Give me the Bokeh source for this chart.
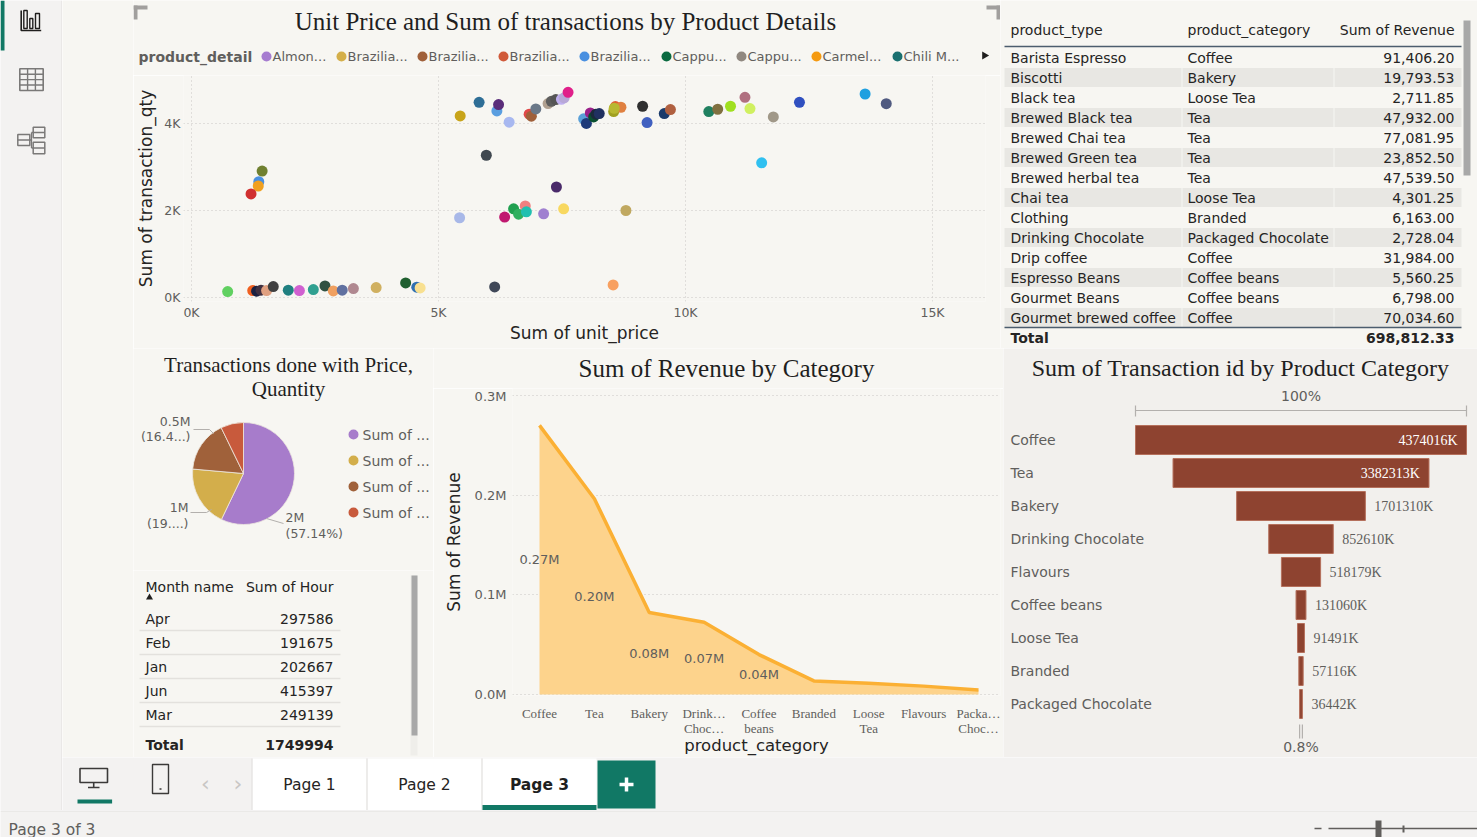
import math
from bokeh.plotting import figure
from bokeh.models import Range1d, FixedTicker
from bokeh.layouts import row, column
from bokeh.embed import file_html
from bokeh.resources import INLINE
from bokeh.core.properties import value

# ======================= DATA =======================
scatter_unit_price = [5439, 5822, 6182, 6216, 6430, 6835, 6880, 6970, 7218, 7285, 7375, 7488, 7544, 7623,
                      7938, 7994, 8073, 8141, 8186, 8254, 8546, 8580, 8693, 8557, 9132, 9222, 9571, 9695,
                      10472, 10652, 10911, 11204, 11305, 11778, 12307, 13636, 14064,
                      5968, 11542, 1430, 1362, 1351, 1205, 7387, 5427, 6339, 6520, 6621, 6756, 6779, 7128,
                      7533, 8794, 6137, 8535,
                      732, 1239, 1317, 1407, 1520, 1655, 1959, 2184, 2466, 2702, 2871, 3051, 3277, 3738,
                      4335, 4560, 4628]
scatter_transaction_qty = [4174, 4487, 4289, 4434, 4030, 4213, 4167, 4334, 4458, 4510, 4549, 4555, 4590, 4716,
                           4106, 4000, 4243, 4151, 4213, 4228, 4274, 4388, 4373, 4350, 4396, 4020, 4228, 4320,
                           4274, 4327, 4396, 4602, 4342, 4151, 4487, 4678, 4456,
                           3270, 3095, 2905, 2662, 2563, 2380, 2540, 1833, 1848, 2038, 1916, 2106, 1970, 1924,
                           2038, 2000, 243, 289,
                           137, 160, 144, 167, 160, 251, 167, 160, 183, 266, 152, 167, 205, 228,
                           335, 236, 220]
scatter_colors = ["#c8a41a", "#2e6e96", "#5a9ee0", "#5a2d7a", "#a8b8f0", "#e04848", "#a0603a", "#6a7888",
                  "#b0a090", "#5e5e5e", "#555555", "#c0b0f0", "#b8a8d8", "#e0208a", "#5aa0d8", "#1e3a7a",
                  "#9a208a", "#0a5030", "#1a2a3a", "#203060", "#a0a020", "#e06030", "#e08040", "#b8b830",
                  "#303030", "#4060c0", "#1a3a6a", "#b06040", "#208060", "#807040", "#a0e020", "#b07080",
                  "#d0f060", "#a09888", "#3050c0", "#20a0e0", "#505a80",
                  "#404850", "#30c0f0", "#708030", "#4a90e0", "#f0a020", "#d03030", "#4a2a6a", "#a8b8e8",
                  "#c01870", "#20a050", "#30b060", "#f08080", "#20c0b0", "#a080d0", "#f8d860", "#c0a860",
                  "#404858", "#f8a060",
                  "#60d060", "#f06020", "#1a2040", "#403040", "#e0a080", "#404040", "#208080", "#d060d0",
                  "#30a090", "#305040", "#f0a060", "#6070a0", "#b08890", "#d0b060", "#206030", "#3070b0",
                  "#f8e090"]
scatter_x_ticks = [0, 5000, 10000, 15000]
scatter_y_ticks = [0, 2000, 4000]
scatter_legend_title = "product_detail"
scatter_legend_labels = ["Almon...", "Brazilia...", "Brazilia...", "Brazilia...", "Brazilia...",
                         "Cappu...", "Cappu...", "Carmel...", "Chili M..."]
scatter_legend_colors = ["#a67cd0", "#d4af4a", "#a0603a", "#d05a3a", "#4a90e0",
                         "#0a6a40", "#908880", "#f59a10", "#1a7070"]

table_product_type = ["Barista Espresso", "Biscotti", "Black tea", "Brewed Black tea", "Brewed Chai tea",
                      "Brewed Green tea", "Brewed herbal tea", "Chai tea", "Clothing", "Drinking Chocolate",
                      "Drip coffee", "Espresso Beans", "Gourmet Beans", "Gourmet brewed coffee"]
table_product_category = ["Coffee", "Bakery", "Loose Tea", "Tea", "Tea", "Tea", "Tea", "Loose Tea", "Branded",
                          "Packaged Chocolate", "Coffee", "Coffee beans", "Coffee beans", "Coffee"]
table_revenue = [91406.20, 19793.53, 2711.85, 47932.00, 77081.95, 23852.50, 47539.50, 4301.25, 6163.00,
                 2728.04, 31984.00, 5560.25, 6798.00, 70034.60]
table_revenue_total = 698812.33

pie_series = ["Sum of ...", "Sum of ...", "Sum of ...", "Sum of ..."]
pie_values = [1749994, 590000, 502000, 221000]
pie_colors = ["#a77ccb", "#d3ae4b", "#a0613a", "#c85a3c"]
pie_value_text = ["2M", "1M", "0.5M"]
pie_pct_text = ["(57.14%)", "(19....)", "(16.4...)"]

month_names = ["Apr", "Feb", "Jan", "Jun", "Mar"]
month_hours = [297586, 191675, 202667, 415397, 249139]
month_hours_total = 1749994

area_categories = ["Coffee", "Tea", "Bakery", "Drinking Chocolate", "Coffee beans", "Branded",
                   "Loose Tea", "Flavours", "Packaged Chocolate"]
area_tick_labels = ["Coffee", "Tea", "Bakery", "Drink\u2026\nChoc\u2026", "Coffee\nbeans", "Branded",
                    "Loose\nTea", "Flavours", "Packa\u2026\nChoc\u2026"]
area_revenue = [269952, 196406, 82316, 72416, 40085, 13607, 11214, 8408, 4408]
area_labelled = 5
area_y_ticks = [0, 100000, 200000, 300000]

funnel_categories = ["Coffee", "Tea", "Bakery", "Drinking Chocolate", "Flavours", "Coffee beans",
                     "Loose Tea", "Branded", "Packaged Chocolate"]
funnel_values = [4374016, 3382313, 1701310, 852610, 518179, 131060, 91491, 57116, 36442]

# ======================= STYLE =======================
SANS = "DejaVu Sans"
SERIF = "Liberation Serif"
DARK = "#252423"
GRAY = "#605e5c"
CANVAS = "#f7f6f2"
PANEL = "#f3f2f1"
GREEN = "#117865"
LINE = "#e1dfdd"


def noalign(p):
    try:
        p.frame_align = False
    except Exception:
        pass
    return p


def blank(w, h, xr, yr, bg=CANVAS):
    p = figure(width=w, height=h, x_range=xr, y_range=yr, title=None,
               x_axis_type=None, y_axis_type=None, output_backend="svg",
               toolbar_location=None, min_border=0)
    p.background_fill_color = bg
    p.border_fill_color = bg
    p.outline_line_color = None
    return noalign(p)


def put_text(p, xs, ys, texts, size="14px", color=DARK, font=SANS, align="left", style="normal"):
    return p.text(x=list(xs), y=list(ys), text=list(texts), text_font=value(font),
                  text_font_size=size, text_color=color, text_align=align,
                  text_baseline="middle", text_font_style=style)


def style_axes(p, tick_font, tick_size):
    for ax in p.axis:
        ax.axis_line_color = None
        ax.major_tick_line_color = None
        ax.minor_tick_line_color = None
        ax.major_tick_out = 0
        ax.major_tick_in = 0
        ax.minor_tick_out = 0
        ax.minor_tick_in = 0
        ax.major_label_text_color = GRAY
        ax.major_label_text_font = tick_font
        ax.major_label_text_font_size = tick_size
        ax.axis_label_text_font = SANS
        ax.axis_label_text_font_size = "17px"
        ax.axis_label_text_color = DARK
        ax.axis_label_text_font_style = "normal"


# ======================= SIDEBAR (x 0..62, y 0..810) =======================
sb = blank(62, 810, Range1d(0, 62), Range1d(810, 0), bg=PANEL)
sb.segment(x0=[61.5], y0=[0], x1=[61.5], y1=[810], line_color=LINE, line_width=1)
sb.quad(left=[0], right=[4], top=[0], bottom=[50], fill_color=GREEN, line_color=None)
sb.line(x=[20.7, 20.7, 40.7], y=[10, 30, 30], line_color="#201f1e", line_width=1.6)
sb.quad(left=[23.3, 29.3, 35.0], right=[26.7, 32.3, 39.0], top=[10, 18, 13], bottom=[28, 28, 28],
        fill_color=None, line_color="#201f1e", line_width=1.4)
sb.quad(left=[19.3], right=[42.7], top=[68.3], bottom=[90], fill_color=None, line_color="#7a7978", line_width=1.6)
sb.segment(x0=[27.1, 34.9, 19.3, 19.3, 19.3], y0=[68.3, 68.3, 73.7, 79.1, 84.5],
           x1=[27.1, 34.9, 42.7, 42.7, 42.7], y1=[90, 90, 73.7, 79.1, 84.5], line_color="#7a7978", line_width=1.4)
sb.quad(left=[17.3, 32.7, 32.7], right=[29.3, 44.3, 44.3], top=[134, 126.7, 141.7], bottom=[145, 137.3, 153.3],
        fill_color=None, line_color="#7a7978", line_width=1.5)
sb.segment(x0=[17.3, 32.7, 32.7, 29.3, 31.0, 31.0, 31.0], y0=[139.5, 132, 147.5, 139.5, 132, 132, 147.5],
           x1=[29.3, 44.3, 44.3, 31.0, 31.0, 32.7, 32.7], y1=[139.5, 132, 147.5, 139.5, 147.5, 132, 147.5],
           line_color="#7a7978", line_width=1.3)

# ======================= LEFT PAD (x 62..133) =======================
pad = blank(71, 757, Range1d(0, 71), Range1d(757, 0))

# ======================= SCATTER HEADER (x 133..1000, y 0..75) =======================
sh = blank(867, 75, Range1d(0, 867), Range1d(75, 0))
# focus-mode corner marks of the selected visual
sh.quad(left=[0, 0, 853, 863], right=[14, 4, 867, 867], top=[5, 5, 5, 5], bottom=[9, 19, 9, 19],
        fill_color="#a19f9d", line_color=None)
put_text(sh, [432], [21], ["Unit Price and Sum of transactions by Product Details"], size="25px",
         font=SERIF, color="#1f1f1f", align="center")
put_text(sh, [5], [56], [scatter_legend_title], size="14px", color=GRAY, style="bold")
legend_dot_x = [133, 208, 289, 370, 451, 533, 608, 683, 764]
sh.scatter(x=legend_dot_x, y=[56] * len(legend_dot_x), size=10, fill_color=scatter_legend_colors, line_color=None)
put_text(sh, [x + 6 for x in legend_dot_x], [56] * len(legend_dot_x), scatter_legend_labels, size="13px", color=GRAY)
sh.scatter(x=[851], y=[55], marker="triangle", angle=-math.pi / 2, size=8, fill_color="#201f1e", line_color=None)

# ======================= SCATTER PLOT (x 133..1000, y 75..348) =======================
SX0, SX1 = -162, 16073
SY0, SY1 = -92, 5103
sc = figure(width=867, height=273, x_range=Range1d(SX0, SX1), y_range=Range1d(SY0, SY1), title=None,
            output_backend="svg", toolbar_location=None,
            min_border_left=50, min_border_right=15, min_border_top=0, min_border_bottom=47)
noalign(sc)
sc.background_fill_color = CANVAS
sc.border_fill_color = CANVAS
sc.outline_line_color = None
sc.scatter(x=scatter_unit_price, y=scatter_transaction_qty, size=11, fill_color=scatter_colors, line_color=None)
sc.xaxis.ticker = FixedTicker(ticks=scatter_x_ticks)
sc.yaxis.ticker = FixedTicker(ticks=scatter_y_ticks)
sc.xaxis.major_label_overrides = {t: f"{t // 1000}K" for t in scatter_x_ticks}
sc.yaxis.major_label_overrides = {t: f"{t // 1000}K" for t in scatter_y_ticks}
sc.xaxis.axis_label = "Sum of unit_price"
sc.yaxis.axis_label = "Sum of transaction_qty"
style_axes(sc, SANS, "12.5px")
sc.xaxis.major_label_standoff = 3
sc.xaxis.axis_label_standoff = 0
sc.yaxis.major_label_standoff = 3
sc.yaxis.axis_label_standoff = 5
for g in (sc.xgrid[0], sc.ygrid[0]):
    g.grid_line_color = "#c8c6c4"
    g.grid_line_dash = "1 3"

# ======================= TOP TABLE (x 1000..1477, y 0..348) =======================
tb = blank(477, 348, Range1d(0, 477), Range1d(14.55, -2.85))
n = len(table_product_type)
odd = [i for i in range(n) if i % 2 == 1]
for l, r in ((4, 181), (182, 333), (334, 461)):
    tb.quad(left=[l] * len(odd), right=[r] * len(odd), top=[i - 0.48 for i in odd],
            bottom=[i + 0.48 for i in odd], fill_color="#e8e7e3", line_color=None)
tb.segment(x0=[4, 4], y0=[-0.55, 13.5], x1=[461, 461], y1=[-0.55, 13.5], line_color="#4c5d6e", line_width=1.5)
put_text(tb, [10, 187], [-1.4, -1.4], ["product_type", "product_category"])
put_text(tb, [454], [-1.4], ["Sum of Revenue"], align="right")
put_text(tb, [10] * n, range(n), table_product_type)
put_text(tb, [187] * n, range(n), table_product_category)
put_text(tb, [454] * n, range(n), [f"{v:,.2f}" for v in table_revenue], align="right")
put_text(tb, [10], [14.0], ["Total"], style="bold")
put_text(tb, [454], [14.0], [f"{table_revenue_total:,.2f}"], align="right", style="bold")
tb.quad(left=[463], right=[470], top=[-1.85], bottom=[5.9], fill_color="#a8a8a8", line_color=None)

# ======================= PIE (x 133..433, y 348..570) =======================
pie = blank(300, 222, Range1d(0, 300), Range1d(0, 222))
total = sum(pie_values)
cum = [0]
for v in pie_values:
    cum.append(cum[-1] + v / total)
starts = [math.pi / 2 - 2 * math.pi * c for c in cum[:-1]]
ends = [math.pi / 2 - 2 * math.pi * c for c in cum[1:]]
pie.wedge(x=[110] * len(pie_values), y=[97] * len(pie_values), radius=51, start_angle=starts, end_angle=ends,
          direction="clock", fill_color=pie_colors, line_color="#eee8e0", line_width=0.8)
put_text(pie, [155, 155], [206, 182], ["Transactions done with Price,", "Quantity"], size="21px",
         font=SERIF, color="#1f1f1f", align="center")
label_anchor = [(152, "left", 53, 37), (55, "right", 63, 47), (57, "right", 149, 134)]
for (ax, al, y1, y2), vt, pt in zip(label_anchor, pie_value_text, pie_pct_text):
    put_text(pie, [ax, ax], [y1, y2], [vt, pt], size="12.5px", color=GRAY, align=al)
pie.multi_line(xs=[[133, 150], [57, 73, 78], [60, 76, 80]], ys=[[52, 47], [58, 58, 61], [141, 141, 137]],
               line_color="#b3b0ad", line_width=1)
ly_ = [136, 110, 84, 58]
pie.scatter(x=[220] * 4, y=ly_, size=10, fill_color=pie_colors, line_color=None)
put_text(pie, [229] * 4, ly_, pie_series, size="14px", color=GRAY)

# ======================= MONTH TABLE (x 133..433, y 570..757) =======================
mt = blank(300, 187, Range1d(0, 300), Range1d(5.79, -2))
m = len(month_names)
put_text(mt, [12], [-1.333], ["Month name"])
put_text(mt, [200], [-1.333], ["Sum of Hour"], align="right")
mt.scatter(x=[16], y=[-0.875], marker="triangle", size=7, fill_color="#201f1e", line_color=None)
put_text(mt, [12] * m, range(m), month_names)
put_text(mt, [200] * m, range(m), [str(h) for h in month_hours], align="right")
mt.segment(x0=[6] * m, y0=[i + 0.5 for i in range(m)], x1=[207] * m, y1=[i + 0.5 for i in range(m)],
           line_color="#e3e1dd", line_width=1.5)
put_text(mt, [12], [5.29], ["Total"], style="bold")
put_text(mt, [200], [5.29], [str(month_hours_total)], align="right", style="bold")
mt.quad(left=[277], right=[284], top=[-1.79], bottom=[5.71], fill_color="#efeeea", line_color=None)
mt.quad(left=[278], right=[284], top=[-1.79], bottom=[4.875], fill_color="#a8a8a8", line_color=None)

# ======================= AREA HEADER (x 433..1003, y 348..388) =======================
ah = blank(570, 40, Range1d(0, 570), Range1d(40, 0))
put_text(ah, [293], [20], ["Sum of Revenue by Category"], size="25px", font=SERIF, color="#1f1f1f", align="center")

# ======================= AREA PLOT (x 433..1003, y 388..757) =======================
STEP = 54.875
AX0, AX1 = (512 - 539) / STEP, (1000 - 539) / STEP
PXM = 1003.3 / 1e6
AY0, AY1 = (696 - 697) / PXM, (696 - 388) / PXM
ar = figure(width=570, height=369, x_range=Range1d(AX0, AX1), y_range=Range1d(AY0, AY1), title=None,
            output_backend="svg", toolbar_location=None,
            min_border_left=79, min_border_right=3, min_border_top=0, min_border_bottom=60)
noalign(ar)
ar.background_fill_color = CANVAS
ar.border_fill_color = CANVAS
ar.outline_line_color = None
idx = list(range(len(area_categories)))
ar.varea(x=idx, y1=[0] * len(idx), y2=area_revenue, fill_color="#fdd38c")
ar.line(x=idx, y=area_revenue, line_color="#fbb034", line_width=3.5)
put_text(ar, idx[:area_labelled], [v / 2 for v in area_revenue[:area_labelled]],
         [f"{v / 1e6:.2f}M" for v in area_revenue[:area_labelled]], size="13px", color=GRAY, align="center")
ar.xaxis.ticker = FixedTicker(ticks=idx)
ar.xaxis.major_label_overrides = {i: t for i, t in zip(idx, area_tick_labels)}
ar.yaxis.ticker = FixedTicker(ticks=area_y_ticks)
ar.yaxis.major_label_overrides = {t: f"{t / 1e6:.1f}M" for t in area_y_ticks}
ar.xaxis.axis_label = "product_category"
ar.yaxis.axis_label = "Sum of Revenue"
style_axes(ar, SANS, "13px")
ar.xaxis.axis_label_text_font_size = "16.5px"
ar.xaxis.major_label_text_font = SERIF
ar.xaxis.major_label_text_line_height = 1.0
ar.xaxis.major_label_standoff = 10
ar.xaxis.axis_label_standoff = -3
ar.yaxis.major_label_standoff = 6
ar.yaxis.axis_label_standoff = 8
ar.xgrid.visible = False
ar.ygrid.grid_line_color = "#c8c6c4"
ar.ygrid.grid_line_dash = "1 3"

# ======================= FUNNEL (x 1003..1477, y 348..757) =======================
FBG = "#f2f0ed"
fmax = max(funnel_values)
K = fmax / 331.0
CX = 297.5
ROW0, RSTEP = 91.5, 33.0
fu = blank(474, 409, Range1d(-CX * K, (474 - CX) * K), Range1d((409 - ROW0) / RSTEP, -ROW0 / RSTEP), bg=FBG)
fidx = list(range(len(funnel_categories)))
fu.hbar(y=fidx, left=[-v / 2 for v in funnel_values], right=[v / 2 for v in funnel_values],
        height=29 / RSTEP, fill_color="#8e4330", line_color="#b5705c", line_width=1)
put_text(fu, [(-CX + 7) * K] * len(fidx), fidx, funnel_categories, color=GRAY)
inside = [i for i, v in enumerate(funnel_values) if v / fmax > 0.5]
outside = [i for i, v in enumerate(funnel_values) if v / fmax <= 0.5]
put_text(fu, [funnel_values[i] / 2 - 9 * K for i in inside], inside,
         [f"{funnel_values[i]}K" for i in inside], size="14px", font=SERIF, color="white", align="right")
put_text(fu, [funnel_values[i] / 2 + 9 * K for i in outside], outside,
         [f"{funnel_values[i]}K" for i in outside], size="14px", font=SERIF, color=GRAY, align="left")
put_text(fu, [(237 - CX) * K], [(19 - ROW0) / RSTEP], ["Sum of Transaction id by Product Category"],
         size="24px", font=SERIF, color="#1f1f1f", align="center")
put_text(fu, [0], [(47 - ROW0) / RSTEP], ["100%"], color=GRAY, align="center")
br = (62 - ROW0) / RSTEP
fu.segment(x0=[-fmax / 2, -fmax / 2, fmax / 2], y0=[br, (57 - ROW0) / RSTEP, (57 - ROW0) / RSTEP],
           x1=[fmax / 2, -fmax / 2, fmax / 2], y1=[br, (68 - ROW0) / RSTEP, (68 - ROW0) / RSTEP],
           line_color="#b3b0ad", line_width=1.2)
fmin = min(funnel_values)
fu.segment(x0=[-fmin / 2, fmin / 2], y0=[(376 - ROW0) / RSTEP] * 2, x1=[-fmin / 2, fmin / 2],
           y1=[(390 - ROW0) / RSTEP] * 2, line_color="#b3b0ad", line_width=1.2)
put_text(fu, [0], [(398 - ROW0) / RSTEP], [f"{fmin / fmax * 100:.1f}%"], color=GRAY, align="center")

# ======================= TAB BAR (x 62..1477, y 757..810) =======================
tab = blank(1415, 53, Range1d(0, 1415), Range1d(53, 0), bg=PANEL)
tab.quad(left=[17.5], right=[45], top=[11], bottom=[25], fill_color=None, line_color="#3b3a39", line_width=1.6)
tab.segment(x0=[31.2, 25.5], y0=[25, 30], x1=[31.2, 37], y1=[30, 30], line_color="#3b3a39", line_width=1.6)
tab.quad(left=[15], right=[49.6], top=[42], bottom=[46], fill_color=GREEN, line_color=None)
tab.quad(left=[90], right=[106], top=[7], bottom=[36], fill_color=None, line_color="#3b3a39", line_width=1.4)
tab.segment(x0=[97], y0=[31.5], x1=[99], y1=[31.5], line_color="#3b3a39", line_width=1.4)
put_text(tab, [143, 175.5], [26, 26], ["\u2039", "\u203a"], size="22px", color="#c8c6c4", align="center")
tab.quad(left=[190, 305, 420], right=[304, 419, 534], top=[1, 1, 1], bottom=[53, 53, 53],
         fill_color="white", line_color=None)
tab.segment(x0=[189.5, 304.5, 419.5], y0=[1, 1, 1], x1=[189.5, 304.5, 419.5], y1=[53, 53, 53],
            line_color=LINE, line_width=1)
put_text(tab, [247, 362], [27, 27], ["Page 1", "Page 2"], size="15.5px", color=DARK, align="center")
put_text(tab, [477], [27], ["Page 3"], size="15.5px", color="#201f1e", align="center", style="bold")
tab.quad(left=[420], right=[534], top=[47.5], bottom=[53], fill_color=GREEN, line_color=None)
tab.quad(left=[535], right=[593], top=[3], bottom=[51], fill_color=GREEN, line_color=None)
tab.segment(x0=[557, 564], y0=[27, 20], x1=[571, 564], y1=[27, 34], line_color="white", line_width=3.5)

# ======================= STATUS BAR (x 0..1477, y 810..837) =======================
st = blank(1477, 27, Range1d(0, 1477), Range1d(27, 0), bg=PANEL)
st.segment(x0=[0], y0=[0.5], x1=[1477], y1=[0.5], line_color=LINE, line_width=1)
put_text(st, [8], [19], ["Page 3 of 3"], size="15.5px", color=GRAY)
st.segment(x0=[1314, 1328], y0=[18, 18], x1=[1321, 1477], y1=[18, 18], line_color="#605e5c", line_width=1.6)
st.quad(left=[1375], right=[1381], top=[10], bottom=[27], fill_color="#605e5c", line_color=None)
st.quad(left=[1402], right=[1404], top=[15], bottom=[22], fill_color="#605e5c", line_color=None)

# ======================= LAYOUT =======================
top_row = row(column(sh, sc), tb)
bottom_row = row(column(pie, mt), column(ah, ar), fu)
canvas = row(pad, column(top_row, bottom_row))
right = column(canvas, tab)
main = row(sb, right)
page = column(main, st)

open("out.html", "w").write(file_html(page, INLINE))
